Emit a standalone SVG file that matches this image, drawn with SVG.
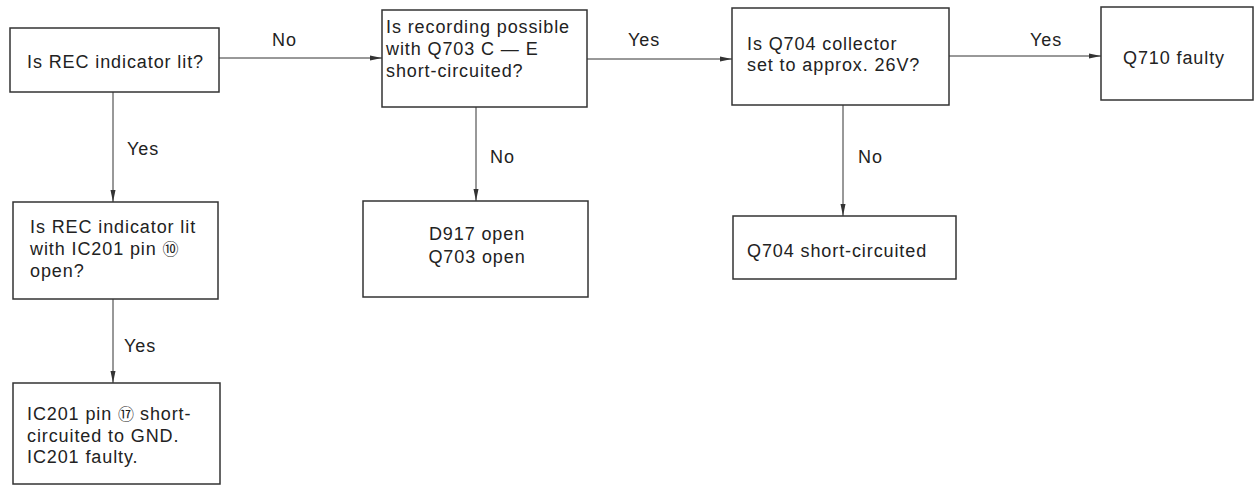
<svg xmlns="http://www.w3.org/2000/svg" width="1256" height="486" viewBox="0 0 1256 486">
<defs>
<marker id="arr" viewBox="0 0 12 6" refX="12" refY="3" markerWidth="12" markerHeight="6" markerUnits="userSpaceOnUse" orient="auto">
<path d="M0,0.5 L12,3 L0,5.5 Z" fill="#333"/>
</marker>
</defs>
<style>
.box{fill:#fff;stroke:#333;stroke-width:1.5}
.t{font-family:"Liberation Sans",Arial,"DejaVu Sans",sans-serif;font-size:18px;letter-spacing:0.9px;fill:#222}
.c{stroke:#333;stroke-width:1;fill:none;marker-end:url(#arr)}
.m{text-anchor:middle}
.circ{font-family:"Noto Sans CJK JP","DejaVu Sans",sans-serif;font-size:16px;letter-spacing:0}
</style>
<rect width="1256" height="486" fill="#fff"/>
<g id="connectors">
<line class="c" x1="219" y1="58" x2="382" y2="58"/>
<text class="t" x="272" y="46">No</text>
<line class="c" x1="587" y1="59" x2="732" y2="59"/>
<text class="t" x="628" y="46">Yes</text>
<line class="c" x1="949" y1="56" x2="1101" y2="56"/>
<text class="t" x="1030" y="46">Yes</text>
<line class="c" x1="113" y1="92" x2="113" y2="202"/>
<text class="t" x="127" y="155">Yes</text>
<line class="c" x1="113" y1="299" x2="113" y2="383"/>
<text class="t" x="124" y="352">Yes</text>
<line class="c" x1="476" y1="107" x2="476" y2="201"/>
<text class="t" x="490" y="163">No</text>
<line class="c" x1="843" y1="105" x2="843" y2="216"/>
<text class="t" x="858" y="163">No</text>
</g>
<g id="n1">
<rect class="box" x="10" y="28" width="209" height="64"/>
<text class="t" x="27" y="68">Is REC indicator lit?</text>
</g>
<g id="n2">
<rect class="box" x="382" y="10" width="205" height="97"/>
<text class="t" x="386" y="33">Is recording possible</text>
<text class="t" x="386" y="55">with Q703 C — E</text>
<text class="t" x="386" y="77">short-circuited?</text>
</g>
<g id="n3">
<rect class="box" x="732" y="8" width="217" height="97"/>
<text class="t" x="747" y="50">Is Q704 collector</text>
<text class="t" x="747" y="71">set to approx. 26V?</text>
</g>
<g id="n4">
<rect class="box" x="1101" y="7" width="152" height="93"/>
<text class="t" x="1123" y="64">Q710 faulty</text>
</g>
<g id="n5">
<rect class="box" x="13" y="202" width="205" height="97"/>
<text class="t" x="30" y="233">Is REC indicator lit</text>
<text class="t" x="30" y="255">with IC201 pin <tspan class="circ">⑩</tspan></text>
<text class="t" x="30" y="277">open?</text>
</g>
<g id="n6">
<rect class="box" x="13" y="383" width="207" height="101"/>
<text class="t" x="27" y="420">IC201 pin <tspan class="circ">⑰</tspan> short-</text>
<text class="t" x="27" y="442">circuited to GND.</text>
<text class="t" x="27" y="463">IC201 faulty.</text>
</g>
<g id="n7">
<rect class="box" x="363" y="201" width="225" height="96"/>
<text class="t m" x="477" y="240">D917 open</text>
<text class="t m" x="477" y="263">Q703 open</text>
</g>
<g id="n8">
<rect class="box" x="733" y="216" width="223" height="63"/>
<text class="t" x="747" y="257">Q704 short-circuited</text>
</g>
</svg>
